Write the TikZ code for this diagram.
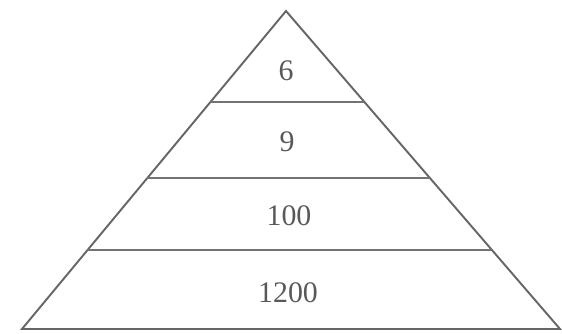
\documentclass[tikz,border=0pt]{standalone}
\usepackage{fontspec}
\setmainfont{Liberation Serif}
\usetikzlibrary{calc}
\tikzset{
  edge/.style={draw=black!60, line width=1.1pt, line join=miter},
  layer/.style={draw=black!55, line width=1.1pt},
  count/.style={font=\fontsize{17}{20}\selectfont, text=black!65}
}
\begin{document}
\begin{tikzpicture}[x=0.02cm, y=-0.02cm]
  \useasboundingbox (0,0) rectangle (562,334);
  % Corners of the pyramid
  \coordinate (apex) at (286,11);
  \coordinate (baseL) at (22,329);
  \coordinate (baseR) at (560,329);
  \draw[edge] (baseL) -- (apex) -- (baseR) -- cycle;
  % Layer lines
  \foreach \lvl/\pos in {1/0.286, 2/0.525, 3/0.752}
    \draw[layer] ($(apex)!\pos!(baseL)$) coordinate (cutL\lvl) -- ($(apex)!\pos!(baseR)$) coordinate (cutR\lvl);
  % Counts
  \node[count] (n6) at (286,71) {6};
  \node[count] (n9) at (287,142) {9};
  \node[count] (n100) at (289,216) {100};
  \node[count] (n1200) at (288,293) {1200};
\end{tikzpicture}
\end{document}
